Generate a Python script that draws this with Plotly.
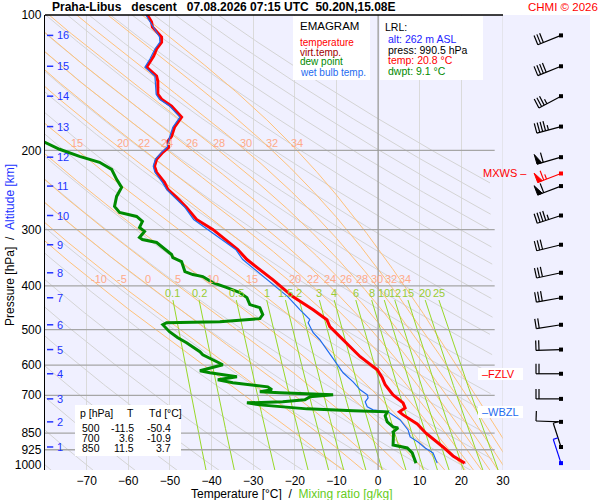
import numpy as np
import plotly.graph_objects as go

# ---------------- sounding ----------------
temp_pres = [100, 103.7, 106.3, 111.9, 114.9, 119.0, 123.4, 125.3, 130.6, 136.7, 140.3, 150.0, 153.9,
             159.5, 168.7, 177.6, 186.0, 190.8, 196.8, 201.9, 209.3, 216.9, 223.7, 235.5, 244.1, 254.3,
             267.7, 284.7, 299.6, 332.0, 349.5, 387.3, 422.5, 451.7, 475.4, 492.8, 526.8, 574.7, 614.4,
             640.1, 663.4, 698.4, 727.7, 746.6, 762.0, 773.9, 810.5, 850.0, 911.9, 954.9, 990.5]
temp_vals = [-55.4, -54.4, -54.2, -52.0, -52.0, -53.2, -53.9, -54.4, -55.6, -53.2, -52.9, -52.9, -52.0,
             -49.6, -47.2, -48.9, -49.6, -50.5, -50.3, -51.7, -53.2, -53.7, -53.2, -51.3, -50.5, -48.4,
             -46.0, -43.6, -39.7, -33.7, -31.5, -25.3, -20.5, -15.6, -12.3, -11.6, -8.4, -4.3, -0.2,
             1.0, 1.7, 3.6, 6.0, 6.5, 5.1, 6.0, 9.4, 11.5, 15.6, 18.0, 20.8]
virt_vals = [-55.4, -54.4, -54.2, -52.0, -52.0, -53.2, -53.9, -54.4, -55.6, -53.2, -52.9, -52.9, -52.0,
             -49.6, -47.2, -48.9, -49.6, -50.5, -50.3, -51.7, -53.2, -53.7, -53.2, -51.3, -50.5, -48.4,
             -46.0, -43.6, -39.7, -33.7, -31.5, -25.3, -20.5, -15.6, -12.3, -11.6, -8.4, -4.3, -0.1,
             1.1, 1.8, 3.7, 6.1, 6.6, 5.3, 6.2, 9.6, 11.7, 15.8, 18.2, 21.0]

dew_pres = [188.0, 191.8, 198.8, 206.1, 212.5, 220.3, 231.9, 241.6, 253.0, 266.3, 274.6, 280.3, 287.6,
            296.6, 302.7, 312.2, 315.4, 320.3, 328.6, 340.6, 345.9, 353.1, 371.7, 377.4, 381.3, 393.2,
            403.5, 413.9, 424.7, 440.2, 447.0, 463.4, 473.0, 475.4, 480.3, 482.8, 487.8, 505.6, 521.4,
            534.9, 546.0, 560.2, 568.9, 583.7, 598.8, 617.6, 623.9, 636.9, 646.7, 656.8, 663.4, 670.4,
            680.7, 687.7, 691.3, 698.4, 705.6, 716.5, 723.9, 727.7, 735.2, 750.4, 758.1, 762.0, 777.9,
            802.2, 823.0, 827.2, 844.3, 850.0, 902.5, 916.5, 940.3, 990.5]
dew_vals = [-82.0, -80.1, -76.5, -71.7, -66.9, -64.0, -62.8, -61.6, -62.8, -63.3, -62.1, -58.0, -56.6,
            -57.3, -56.1, -57.3, -56.6, -53.2, -51.7, -49.6, -49.3, -47.2, -46.4, -44.5, -42.1, -39.7,
            -36.3, -33.2, -31.5, -30.8, -28.4, -27.7, -28.4, -31.5, -38.0, -50.8, -51.7, -50.1, -48.1,
            -46.0, -44.5, -42.8, -42.1, -39.7, -37.3, -42.8, -40.4, -33.9, -38.5, -34.9, -30.1, -26.5,
            -25.5, -28.4, -23.6, -10.8, -16.4, -17.6, -22.9, -31.5, -28.4, -17.1, -6.0, 2.2, 1.7,
            2.2, 3.6, 4.8, 3.6, 3.7, 3.6, 7.0, 8.2, 9.1]

wb_pres = [100, 103.7, 111.9, 114.9, 119.0, 125.3, 130.6, 136.7, 150.0, 153.9, 159.5, 168.7, 177.6,
           186.0, 196.8, 201.9, 209.3, 216.9, 223.7, 235.5, 244.1, 254.3, 267.7, 284.7, 299.6, 332.0,
           349.5, 387.3, 422.5, 451.7, 475.4, 482.8, 508.2, 526.8, 554.5, 583.7, 623.9, 653.4, 680.7,
           698.4, 709.2, 723.9, 742.7, 754.2, 762.0, 794.0, 835.7, 866.3, 888.7, 916.5, 940.3, 990.5]
wb_vals = [-55.8, -54.8, -52.5, -52.4, -53.6, -54.8, -56.0, -53.6, -53.3, -52.5, -50.0, -47.6, -49.3,
           -50.0, -50.7, -52.0, -53.5, -54.0, -53.6, -51.8, -50.8, -48.9, -46.4, -44.3, -40.9, -34.2,
           -32.5, -26.7, -21.7, -18.8, -16.4, -16.8, -15.6, -14.0, -12.3, -10.8, -8.4, -6.0, -4.3,
           -2.6, -2.4, -3.1, -2.6, -1.2, 2.4, 5.3, 7.2, 7.7, 9.6, 11.3, 13.2, 14.2]

# altitude marks [km] and their pressure
km_alt = list(range(1, 17))
km_pres = [912, 802, 713, 627, 554, 488, 425, 374, 324, 279, 240, 207, 177, 151.5, 130, 111]

# winds at the km levels: direction [deg], speed [kt]
wind_dir = [342, 272, 270, 270, 268, 261, 260, 258, 256, 252, 249, 254, 255, 242, 248, 248]
wind_spd = [3, 10, 20, 20, 20, 20, 30, 30, 30, 45, 60, 60, 45, 35, 40, 30]
sfc_wind = (990.5, 342, 5)
mxws_wind = (225, 249, 65)

fzlv_pres = 627
wbzl_pres = 762

lrl = dict(alt=262, press=990.5, temp=20.8, dwpt=9.1)
table_p = [500, 700, 850]
table_t = [-11.5, 3.6, 11.5]
table_td = [-50.4, -10.9, 3.7]

# diagram background line families
dry_theta = list(range(-80, 190, 10))
moist_thw = [-10, -5, 0, 5, 10, 15, 20, 22, 24, 26, 28, 30, 32, 34]
mix_w = [0.1, 0.2, 0.5, 1, 1.5, 2, 3, 4, 6, 8, 10, 12, 15, 20, 25]
isobars = [200, 300, 400, 500, 600, 700, 850, 925]
pres_ticks = [100, 200, 300, 400, 500, 600, 700, 850, 925, 1000]
temp_ticks = list(range(-70, 31, 10))

# ---------------- geometry ----------------
W, H = 600, 500
L_PX, R_PX, T_PX, B_PX = 45, 590, 15, 470
SPLIT_PX = 503
P_BOT = 1026.0
T_MIN, T_MAX = -80, 30
T_CLIP = 27.5
PX_PER_LN = (B_PX - T_PX) / np.log(P_BOT / 100.0)
FONT = "Liberation Sans, Arial, sans-serif"


def px2x(px):
    return (px - L_PX) / (R_PX - L_PX)


def px2y(py):
    return (B_PX - py) / (B_PX - T_PX)


def moist_rate(T, p):
    es = 6.112 * np.exp(17.67 * (T - 273.15) / (T - 29.65))
    rs = 0.622 * es / (p - es)
    num = 287.04 * T + 2.501e6 * rs
    den = 1005.7 + (2.501e6 ** 2 * rs * 0.622) / (287.04 * T ** 2)
    return num / den / p


def pseudo_adiabat(thw, p_grid):
    T = thw + 273.15
    out = [T]
    for p0, p1 in zip(p_grid[:-1], p_grid[1:]):
        h = p1 - p0
        k1 = moist_rate(T, p0)
        k2 = moist_rate(T + h / 2 * k1, p0 + h / 2)
        k3 = moist_rate(T + h / 2 * k2, p0 + h / 2)
        k4 = moist_rate(T + h * k3, p1)
        T = T + h / 6 * (k1 + 2 * k2 + 2 * k3 + k4)
        out.append(T)
    return np.array(out) - 273.15


def dewpoint_of_w(w, p):
    e = w * p / (622.0 + w)
    a = np.log(e / 6.112)
    return 243.5 * a / (17.67 - a)


def joined(curves):
    xs, ys = [], []
    for x, y in curves:
        xs += list(x) + [None]
        ys += list(y) + [None]
    return xs, ys


fig = go.Figure()

# dry adiabats (cut at the right end of the isobars)
p_all = np.exp(np.linspace(np.log(95), np.log(1035), 300))
dry = []
for th in dry_theta:
    t = (th + 273.15) * (p_all / 1000.0) ** 0.2857 - 273.15
    keep = t <= T_CLIP
    dry.append((t[keep], p_all[keep]))
x, y = joined(dry)
fig.add_trace(go.Scatter(x=x, y=y, mode="lines", line=dict(color="#D4D4D4", width=1)))

# pseudo-adiabats
p_up = np.linspace(1000, 95, 906)
p_dn = np.linspace(1000, 1035, 36)
moist = []
labels_200, labels_400 = [], []
for thw in moist_thw:
    tu = pseudo_adiabat(thw, p_up)
    td = pseudo_adiabat(thw, p_dn)
    moist.append((np.concatenate([td[::-1], tu[1:]]), np.concatenate([p_dn[::-1], p_up[1:]])))
    labels_200.append(np.interp(200, p_up[::-1], tu[::-1]))
    labels_400.append(np.interp(400, p_up[::-1], tu[::-1]))
x, y = joined(moist)
fig.add_trace(go.Scatter(x=x, y=y, mode="lines", line=dict(color="#FFC27A", width=1)))

# mixing ratio lines
p_mix = np.linspace(430, 1035, 60)
mix = [(dewpoint_of_w(w, p_mix), p_mix) for w in mix_w]
x, y = joined(mix)
fig.add_trace(go.Scatter(x=x, y=y, mode="lines", line=dict(color="#98D828", width=1)))

# isobars and the 0 degC / 30 degC isotherms
x, y = joined([([T_MIN, 28], [p, p]) for p in isobars])
fig.add_trace(go.Scatter(x=x, y=y, mode="lines", line=dict(color="#A6A6A6", width=1.3)))
fig.add_trace(go.Scatter(x=[0, 0], y=[P_BOT, 100], mode="lines", line=dict(color="#999999", width=1.2)))
fig.add_trace(go.Scatter(x=[30, 30], y=[P_BOT, 100], mode="lines", line=dict(color="#D8D8D8", width=1)))

# sounding curves
fig.add_trace(go.Scatter(x=virt_vals, y=temp_pres, mode="lines", line=dict(color="#A00000", width=1)))
fig.add_trace(go.Scatter(x=temp_vals, y=temp_pres, mode="lines", line=dict(color="#FF0000", width=3)))
fig.add_trace(go.Scatter(x=wb_vals, y=wb_pres, mode="lines", line=dict(color="#1E6BF0", width=1.2)))
fig.add_trace(go.Scatter(x=dew_vals, y=dew_pres, mode="lines", line=dict(color="#008A00", width=3)))

# altitude ticks
tk_x = T_MIN + 2 / 4.164
x, y = joined([([tk_x, tk_x + 1.5], [p, p]) for p in km_pres])
fig.add_trace(go.Scatter(x=x, y=y, mode="lines", line=dict(color="#2233FF", width=1.5)))

# ---------------- wind barbs (panel on x2, coords in px from panel left) ----------------
STN = 58
STAFF, BARB, GAP, PEN = 25, 10, 3, 5


def barb(p0, d, spd):
    r = np.deg2rad(d)
    sx, sy = np.sin(r), np.cos(r)
    nx, ny = sy, -sx

    def pt(e, n):
        return STN + e, p0 * np.exp(-n / PX_PER_LN)

    segs, pens = [], []
    tx, ty = STAFF * sx, STAFF * sy
    segs.append([pt(0, 0), pt(tx, ty)])
    v = int(5 * round(spd / 5.0))
    pos = 0.0
    while v >= 50:
        bx, by = tx - pos * sx, ty - pos * sy
        pens.append([pt(bx, by), pt(bx + BARB * nx, by + BARB * ny),
                     pt(bx - PEN * sx, by - PEN * sy), pt(bx, by)])
        pos += PEN + 1.5
        v -= 50
    while v >= 10:
        bx, by = tx - pos * sx, ty - pos * sy
        segs.append([pt(bx, by), pt(bx + BARB * nx, by + BARB * ny)])
        pos += GAP
        v -= 10
    if v >= 5:
        bx, by = tx - pos * sx, ty - pos * sy
        segs.append([pt(bx, by), pt(bx + BARB / 2 * nx, by + BARB / 2 * ny)])
    return segs, pens


def add_barbs(levels, color):
    xs, ys, pxs, pys, dx, dy = [], [], [], [], [], []
    for p0, d, s in levels:
        segs, pens = barb(p0, d, s)
        for sg in segs:
            xs += [q[0] for q in sg] + [None]
            ys += [q[1] for q in sg] + [None]
        for pg in pens:
            pxs += [q[0] for q in pg] + [None]
            pys += [q[1] for q in pg] + [None]
        dx.append(STN)
        dy.append(p0)
    fig.add_trace(go.Scatter(x=xs, y=ys, xaxis="x2", mode="lines", line=dict(color=color, width=1.2)))
    if pxs:
        fig.add_trace(go.Scatter(x=pxs, y=pys, xaxis="x2", mode="lines", fill="toself",
                                 fillcolor=color, line=dict(color=color, width=1)))
    fig.add_trace(go.Scatter(x=dx, y=dy, xaxis="x2", mode="markers",
                             marker=dict(symbol="square", size=4, color=color)))


add_barbs(list(zip(km_pres, wind_dir, wind_spd)), "black")
add_barbs([mxws_wind], "#FF0000")
add_barbs([sfc_wind], "#0000FF")

# ---------------- boxes ----------------
shapes = []


def box(x0, y0, x1, y1, op=1.0):
    shapes.append(dict(type="rect", xref="paper", yref="paper", x0=px2x(x0), x1=px2x(x1),
                       y0=px2y(y1), y1=px2y(y0), fillcolor="white", opacity=op,
                       line=dict(width=0), layer="above"))


box(293, 16, 370, 80)
box(380, 16, 483, 80)
box(75, 405, 181, 456)
box(478, 368, 523, 380)
box(478, 406, 523, 418)
shapes.append(dict(type="line", xref="paper", yref="paper", x0=0, x1=px2x(SPLIT_PX), y0=1, y1=1,
                   line=dict(color="black", width=1.3)))

ann = []


def txt(px, py, s, color="black", size=10, anchor="left", **kw):
    ann.append(dict(x=px2x(px), y=px2y(py), xref="paper", yref="paper", text=s, showarrow=False,
                    xanchor=anchor, yanchor="middle", font=dict(family=FONT, size=size, color=color), **kw))


NB = "\u00a0"
txt(50, 7, "<b>Praha-Libus" + NB * 3 + "descent" + NB * 3 + "07.08.2026 07:15 UTC" + NB * 2
    + "50.20N,15.08E</b>", size=12)
txt(600, 7, "CHMI © 2026", color="#FF0000", size=11.5, anchor="right")

txt(298, 26, "EMAGRAM", size=11.5)
txt(298, 42, "temperature", color="#FF0000")
txt(298, 52, "virt.temp.", color="#A00000")
txt(298, 62, "dew point", color="#008A00")
txt(298, 72, "wet bulb temp.", color="#1E6BF0")

txt(383, 27, "LRL:", size=10.5)
txt(386, 39, f"alt: {lrl['alt']} m ASL", color="#2222FF", size=10.5)
txt(386, 50, f"press: {lrl['press']} hPa", size=10.5)
txt(386, 60, f"temp: {lrl['temp']} °C", color="#FF0000", size=10.5)
txt(386, 71, f"dwpt: {lrl['dwpt']} °C", color="#008A00", size=10.5)

txt(78, 413, "p [hPa]", size=10.5)
txt(130, 413, "T", size=10.5, anchor="center")
txt(147, 413, "Td [°C]", size=10.5)
for i, p in enumerate(table_p):
    yy = 428 + 10 * i
    txt(102, yy, str(p), size=10.5, anchor="right")
    txt(136, yy, f"{table_t[i]:.1f}", size=10.5, anchor="right")
    txt(173, yy, f"{table_td[i]:.1f}", size=10.5, anchor="right")

# axis titles
txt(292, 494, "Temperature [°C]" + NB * 2 + "/" + NB * 2
    + "<span style='color:#66CC22'>Mixing ratio [g/kg]</span>", size=12, anchor="center")
ann.append(dict(x=px2x(10), y=px2y(245), xref="paper", yref="paper", showarrow=False, textangle=-90,
                text="Pressure [hPa]" + NB * 2 + "/" + NB * 2 + "<span style='color:#2233FF'>Altitude [km]</span>",
                font=dict(family=FONT, size=12, color="black"), xanchor="center", yanchor="middle"))

# data-space labels
for k, p in zip(km_alt, km_pres):
    ann.append(dict(x=tk_x + 2.0, y=np.log10(p), xref="x", yref="y", text=str(k), showarrow=False,
                    xanchor="left", yanchor="middle", font=dict(family=FONT, size=11, color="#2233FF")))
for thw, t2, t4 in zip(moist_thw, labels_200, labels_400):
    for tt, pp in ((t2, 200), (t4, 400)):
        if T_MIN + 2 < tt < T_MAX - 2:
            ann.append(dict(x=tt, y=np.log10(pp), xref="x", yref="y", text=str(thw), showarrow=False,
                            xanchor="center", yanchor="bottom", yshift=-1,
                            font=dict(family=FONT, size=11, color="#FFAA88")))
for w in mix_w:
    ann.append(dict(x=dewpoint_of_w(w, 430.0), y=np.log10(430.0), xref="x", yref="y", text=f"{w:g}",
                    showarrow=False, xanchor="center", yanchor="bottom", yshift=-1,
                    font=dict(family=FONT, size=11, color="#99CC33")))

for p, s, c in ((fzlv_pres, "\u2013FZLV", "#FF0000"), (wbzl_pres, "\u2013WBZL", "#1E6BF0")):
    ann.append(dict(x=px2x(480), y=np.log10(p), xref="paper", yref="y", text=s, showarrow=False,
                    xanchor="left", yanchor="middle", font=dict(family=FONT, size=11, color=c)))
ann.append(dict(x=px2x(529), y=np.log10(mxws_wind[0]), xref="paper", yref="y", text="MXWS \u2013",
                showarrow=False, xanchor="right", yanchor="middle",
                font=dict(family=FONT, size=11, color="#FF0000")))

split = px2x(SPLIT_PX)
fig.update_layout(
    width=W, height=H,
    margin=dict(l=L_PX, r=W - R_PX, t=T_PX, b=H - B_PX, autoexpand=False),
    paper_bgcolor="white", plot_bgcolor="#F0F0FF",
    showlegend=False, hovermode=False,
    font=dict(family=FONT, size=12, color="black"),
    xaxis=dict(domain=[0, split], range=[T_MIN, T_MAX], tickvals=temp_ticks, showgrid=True,
               gridcolor="#DADADA", gridwidth=1, zeroline=False, ticks="", showline=False,
               tickfont=dict(size=12), ticklabelstandoff=2, automargin=False),
    xaxis2=dict(domain=[split, 1], range=[0, R_PX - SPLIT_PX], anchor="y", visible=False,
                automargin=False),
    yaxis=dict(type="log", range=[np.log10(P_BOT), 2], tickvals=pres_ticks,
               ticktext=[str(p) for p in pres_ticks], showgrid=False, zeroline=False, ticks="",
               showline=True, linecolor="black", linewidth=1.3, tickfont=dict(size=12),
               automargin=False),
    shapes=shapes, annotations=ann,
)

# the page's default body margin would push the figure 8px off
fig.write_html("out.html", config={"displayModeBar": False},
               post_script="document.body.style.margin='0px';")
